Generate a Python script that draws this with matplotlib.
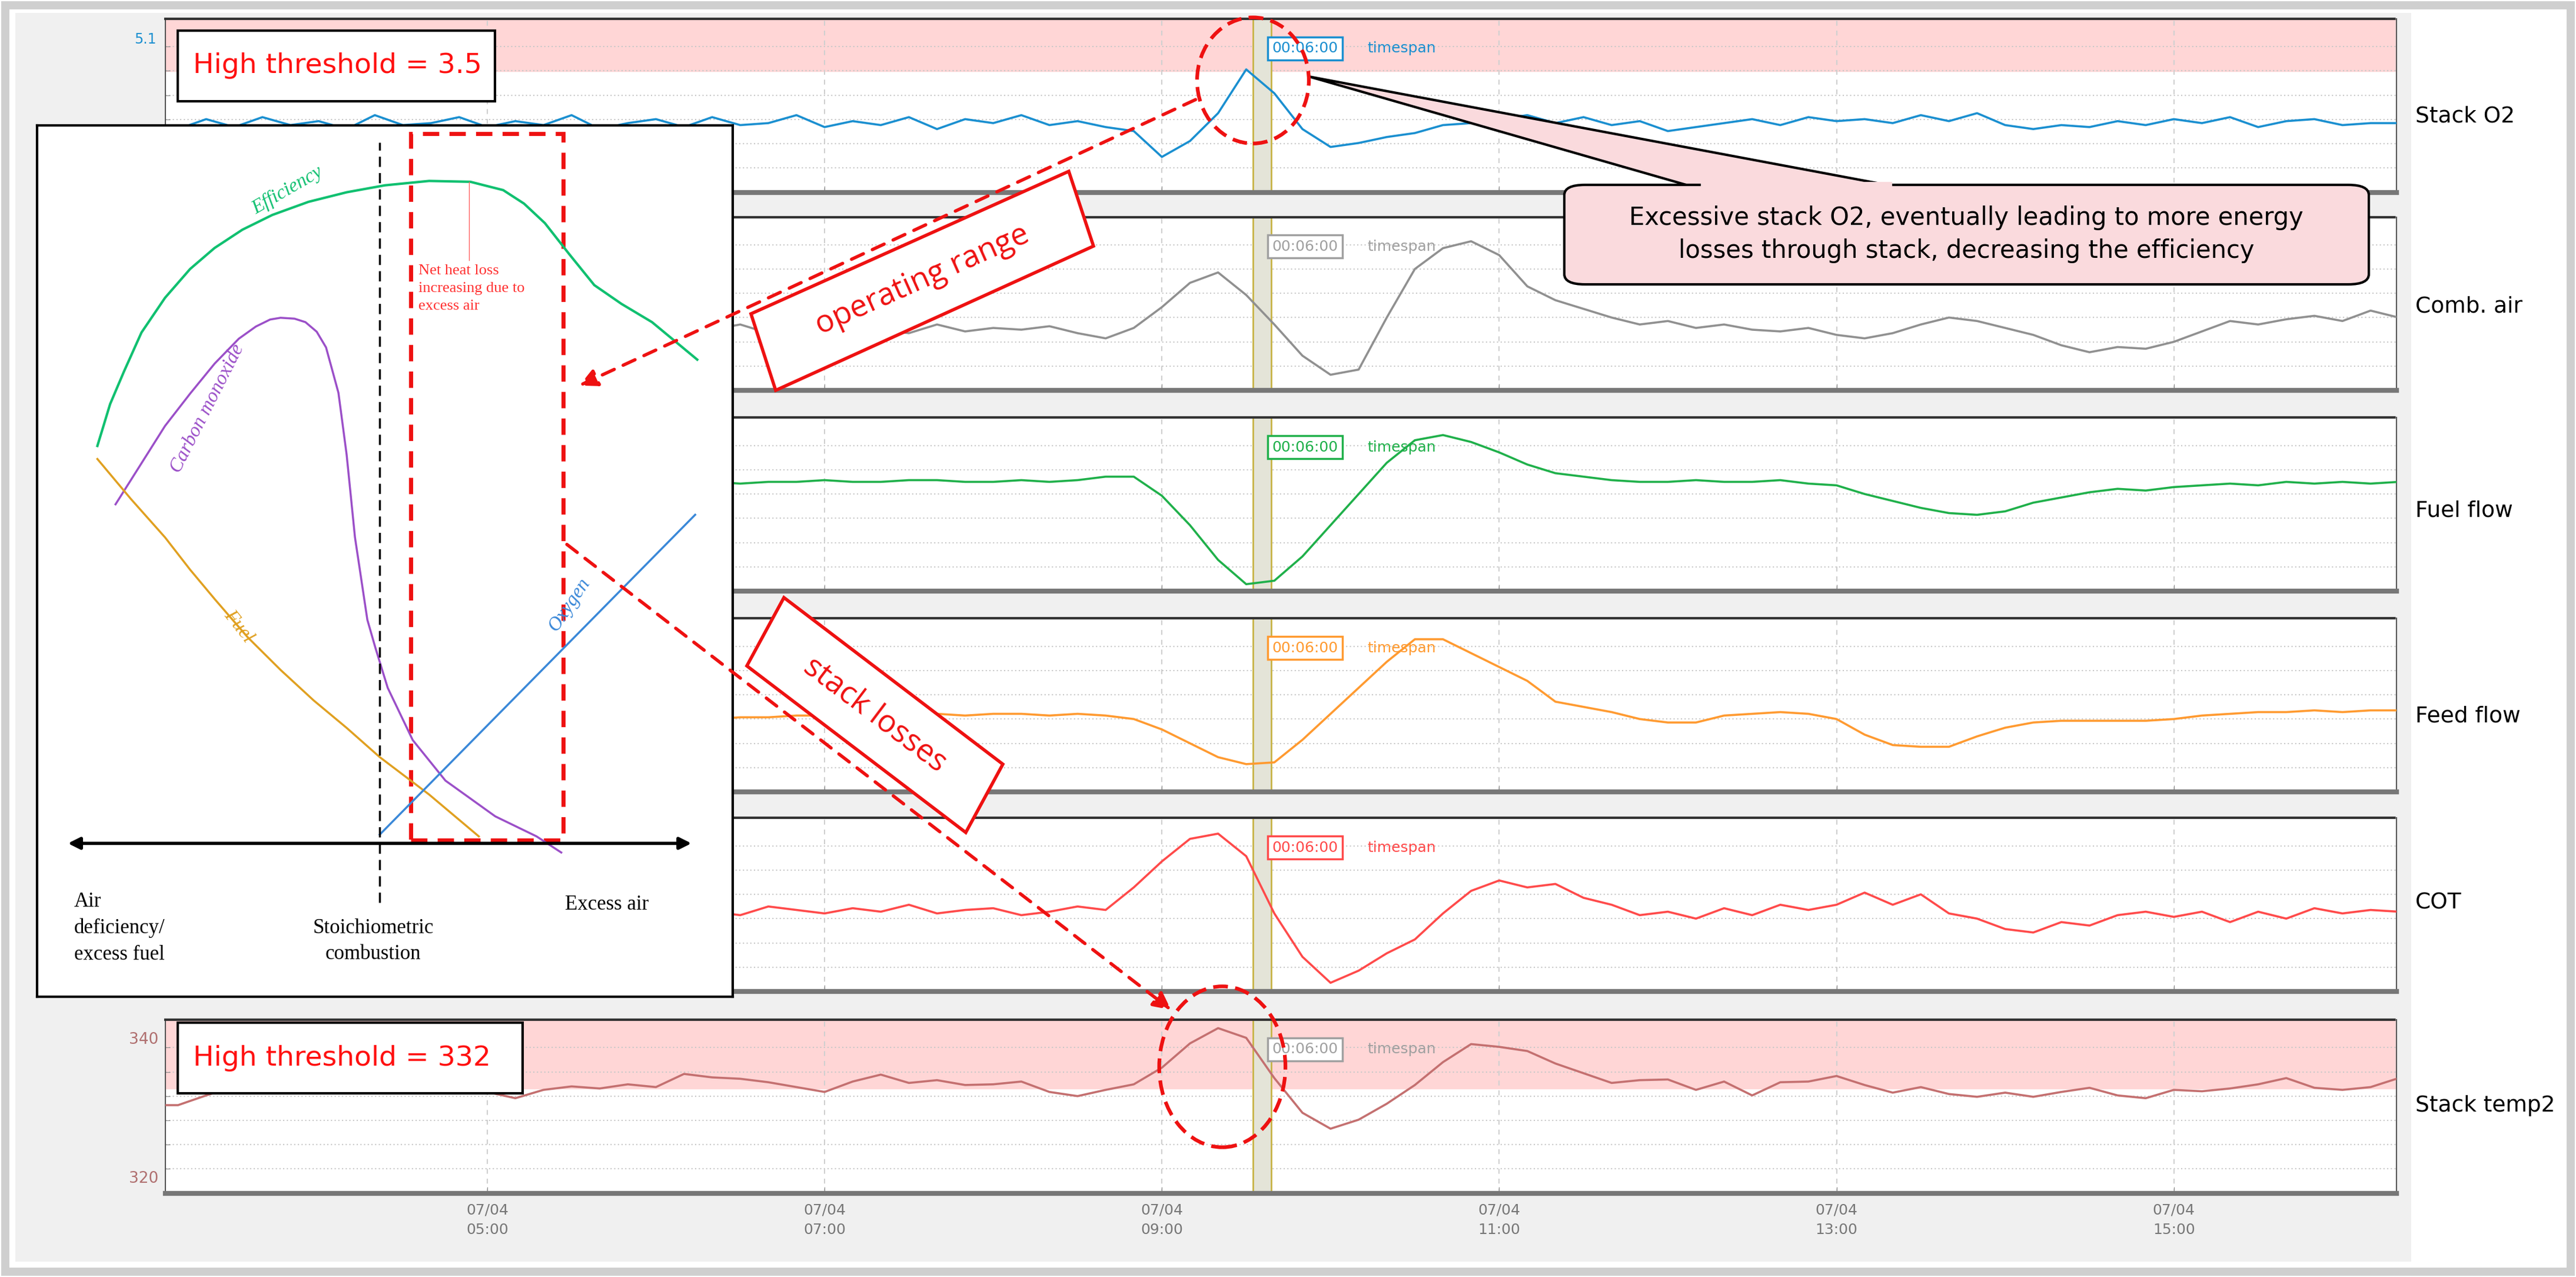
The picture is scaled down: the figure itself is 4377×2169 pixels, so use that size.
import numpy as np
import matplotlib
matplotlib.use("Agg")
import matplotlib.pyplot as plt
from matplotlib.patches import Rectangle, FancyBboxPatch, Polygon, Ellipse, FancyArrowPatch

# ---------------- data (10-minute samples starting 03:00) ----------------
o2 = [0.9,0.6,1.1,0.7,1.2,0.8,1.0,0.6,1.3,0.8,0.9,1.2,0.7,1.0,0.8,1.3,0.6,0.9,1.1,0.7,
      1.2,0.8,0.9,1.3,0.7,1.0,0.8,1.2,0.6,1.1,0.9,1.3,0.8,1.0,0.7,0.5,
      -0.8,0.0,1.4,3.6,2.4,0.6,-0.3,-0.1,0.2,0.4,0.8,0.9,1.1,1.3,0.9,1.2,0.8,1.0,0.5,0.7,
      0.9,1.1,0.8,1.2,1.0,1.1,0.9,1.3,1.0,1.4,0.8,0.6,0.8,0.7,1.0,0.8,1.1,0.9,1.2,0.7,
      1.0,1.1,0.8,0.9,0.9]
comb_air = [36,37,35,36,38,35,36,37,35,36,34,37,36,35,37,36,34,36,37,35,
            35,38,33,36,34,37,35,33,38,34,36,35,37,33,30,36,
            48,62,68,55,38,20,9,12,42,70,82,86,78,60,52,47,42,38,40,36,38,35,34,36,
            32,30,33,38,42,40,36,32,26,22,25,24,28,34,40,38,41,43,40,46,42]
fuel_flow = [63,63,64,63,63,64,63,63,63,64,63,63,64,63,63,63,64,63,62,63,63,62,63,63,64,
             63,63,64,64,63,63,64,63,64,66,
             66,55,38,18,4,6,20,38,56,74,87,90,86,80,73,68,66,64,
             63,63,64,63,63,64,62,61,56,52,48,45,44,46,51,54,57,59,58,60,61,62,61,63,62,63,62,63]
feed_flow = [42,42,42,43,42,42,43,42,42,43,42,42,43,42,43,42,42,43,42,43,42,43,43,44,44,
             43,44,44,45,44,45,45,44,45,44,
             42,36,28,20,16,17,30,45,60,75,88,88,80,72,64,52,49,46,42,40,40,44,45,46,45,
             42,33,27,26,26,32,37,40,41,41,41,41,42,44,45,46,46,47,46,47,47]
cot = [47,45,49,46,48,44,47,50,46,45,48,47,44,49,46,47,50,45,47,48,46,44,49,47,45,48,46,50,
       45,47,48,44,46,49,47,
       60,75,88,91,78,45,20,5,12,22,30,45,58,64,60,62,54,50,44,46,42,48,44,50,47,
       50,57,50,56,45,42,36,34,40,38,44,46,43,46,40,46,42,48,45,47,46]
stack_temp = [330.6,330.6,332.0,333.3,333.9,334.2,333.6,334.0,334.3,333.8,334.0,333.5,332.5,
              331.6,332.8,333.3,333.0,333.6,333.2,335.1,334.6,334.4,333.9,333.2,332.5,334.0,
              335.0,333.8,334.2,333.5,333.6,334.0,332.5,331.9,332.8,333.6,336.0,339.5,341.7,
              340.3,334.5,329.5,327.2,328.5,330.8,333.5,336.8,339.4,339.0,338.4,336.6,335.2,
              333.8,334.2,334.3,332.8,334.0,332.0,333.9,334.0,334.8,333.5,332.4,333.2,332.2,
              331.8,332.4,331.8,332.5,333.1,332.0,331.6,332.8,332.6,333.0,333.6,334.5,333.1,
              332.8,333.2,334.5]
tick_hours = [5, 7, 9, 11, 13, 15]
tick_labels = ["07/04\n05:00", "07/04\n07:00", "07/04\n09:00", "07/04\n11:00", "07/04\n13:00", "07/04\n15:00"]
panel_names = ["Stack O2", "Comb. air", "Fuel flow", "Feed flow", "COT", "Stack temp2"]
o2_threshold = 3.5
temp_threshold = 333.0
span_start, span_end = 9.54, 9.65

series = [o2, comb_air, fuel_flow, feed_flow, cot, stack_temp]
colors = ["#1a8fd0", "#909090", "#1fb04a", "#ff9a30", "#ff4a4a", "#c47070"]
ylims = [(-2.58, 6.14), (0, 100), (0, 100), (0, 100), (0, 100), (317.9, 342.9)]

W, H = 4377, 2169
fig = plt.figure(figsize=(W/100, H/100), dpi=100)
fig.patch.set_facecolor("white")
NARROW = ["Liberation Sans Narrow", "DejaVu Sans"]

def fx(X): return X / W
def fy(Y): return 1 - Y / H

fig.add_artist(Rectangle((0.002, 0.004), 0.996, 0.992, transform=fig.transFigure,
                         facecolor="white", edgecolor="#cfcfcf", lw=10, zorder=-10))
fig.add_artist(Rectangle((0.006, 0.012), 0.930, 0.978, transform=fig.transFigure,
                         facecolor="#f0f0f0", edgecolor="none", zorder=-9))

bottoms = [0.8494, 0.6943, 0.5371, 0.3799, 0.2236, 0.0656]
left, width, height = 0.0641, 0.8662, 0.1358
xlim = (3.09, 16.32)
label_y = [0.909, 0.760, 0.600, 0.439, 0.293, 0.134]

for k, (vals, c, yl, b) in enumerate(zip(series, colors, ylims, bottoms)):
    ax = fig.add_axes([left, b, width, height])
    ax.set_facecolor("white")
    t = 3 + np.arange(len(vals)) / 6.0
    ax.plot(t, vals, color=c, lw=2.6, zorder=3)
    ax.set_xlim(*xlim)
    ax.set_ylim(*yl)
    lo, hi = yl
    grid_y = [lo + f * (hi - lo) for f in (0.14, 0.28, 0.42, 0.56, 0.70, 0.84)]
    ax.set_yticks(grid_y)
    ax.set_yticklabels([])
    for gy in grid_y:
        ax.axhline(gy, color="#c8c8c8", lw=1.5, ls=(0, (1, 2)), zorder=1)
    ax.set_xticks(tick_hours)
    for th in tick_hours:
        ax.axvline(th, color="#d0d0d0", lw=1.5, ls=(0, (4, 4)), zorder=1)
    ax.tick_params(axis="y", length=6, color="#888888", direction="in")
    ax.tick_params(axis="x", length=8, color="#888888", direction="in")
    if k == 5:
        ax.set_xticklabels(tick_labels, fontsize=18, color="#777777", family=NARROW, linespacing=1.5)
        ax.tick_params(axis="x", pad=12)
    else:
        ax.set_xticklabels([])
    for s in ("left", "right"):
        ax.spines[s].set_color("#555555"); ax.spines[s].set_linewidth(1.5)
    ax.spines["top"].set_color("#333333"); ax.spines["top"].set_linewidth(3)
    ax.spines["top"].set_linestyle((0, (1, 1)))
    ax.spines["bottom"].set_color("#777777"); ax.spines["bottom"].set_linewidth(6)
    ax.axvspan(span_start, span_end, facecolor="#e4e4d8", edgecolor="#c8b448", lw=2, zorder=2)
    if k == 0:
        ax.axhspan(o2_threshold, hi, color="#ffd6d6", zorder=0.5)
        ax.text(-0.004, 0.88, "5.1", transform=ax.transAxes, ha="right", va="center",
                fontsize=17, color="#1a8fd0", family=NARROW)
    if k == 5:
        ax.axhspan(temp_threshold, hi, color="#ffd6d6", zorder=0.5)
        for v in (340, 320):
            ax.text(3.05, v, str(v), ha="right", va="center", fontsize=19,
                    color="#b07070", family=NARROW)
    boxc = "#a0a0a0" if k in (1, 5) else c
    ax.text(9.85, hi - 0.17 * (hi - lo), "00:06:00", ha="center", va="center", fontsize=18,
            color=boxc, family=NARROW, zorder=6,
            bbox=dict(boxstyle="square,pad=0.3", facecolor="white", edgecolor=boxc, lw=2.5))
    ax.text(10.22, hi - 0.17 * (hi - lo), "timespan", ha="left", va="center", fontsize=18,
            color=boxc, family=NARROW, zorder=6)
    fig.text(0.9377, label_y[k], panel_names[k], ha="left", va="center", fontsize=27,
             family=NARROW, color="black")

for (x0, y0, x1, y1, txt) in [(302, 52, 841, 172, "High threshold = 3.5"),
                              (302, 1737, 888, 1857, "High threshold = 332")]:
    fig.add_artist(Rectangle((fx(x0), fy(y1)), fx(x1) - fx(x0), fy(y0) - fy(y1),
                             transform=fig.transFigure, facecolor="white", edgecolor="black",
                             lw=3, zorder=20))
    fig.text(fx(x0) + 0.006, (fy(y0) + fy(y1)) / 2, txt, ha="left", va="center", fontsize=34,
             color="#ff1010", family=NARROW, zorder=21)

# callout
fig.add_artist(Polygon([(fx(2224), fy(130)), (fx(2879), fy(318)), (fx(3227), fy(318))],
                       closed=True, transform=fig.transFigure, facecolor="#fadadd",
                       edgecolor="black", lw=3, zorder=20))
fig.add_artist(FancyBboxPatch((fx(2658), fy(483)), fx(4025) - fx(2658), fy(314) - fy(483),
                              boxstyle="round,pad=0,rounding_size=0.008", transform=fig.transFigure,
                              facecolor="#fadadd", edgecolor="black", lw=3, zorder=21))
fig.add_artist(Rectangle((fx(2890), fy(322)), fx(3215) - fx(2890), 0.006, transform=fig.transFigure,
                         facecolor="#fadadd", edgecolor="none", zorder=22))
fig.text(fx(3341), fy(398), "Excessive stack O2, eventually leading to more energy\nlosses through stack, decreasing the efficiency",
         ha="center", va="center", fontsize=30, family=NARROW, linespacing=1.45, zorder=23)

fig.add_artist(Ellipse((0.4864, 0.937), 0.0434, 0.0987, transform=fig.transFigure, fill=False,
                       edgecolor="#ee1111", lw=4.5, ls=(0, (4, 2)), zorder=25))
fig.add_artist(Ellipse((0.4745, 0.1646), 0.049, 0.126, transform=fig.transFigure, fill=False,
                       edgecolor="#ee1111", lw=4.5, ls=(0, (4, 2)), zorder=25))

def rbox(corners, text, rot):
    pts = [(fx(X), fy(Y)) for X, Y in corners]
    fig.add_artist(Polygon(pts, closed=True, transform=fig.transFigure, facecolor="white",
                           edgecolor="#ee1111", lw=4, zorder=26))
    cx = np.mean([p[0] for p in pts]); cy = np.mean([p[1] for p in pts])
    fig.text(cx, cy, text, ha="center", va="center", rotation=rot, rotation_mode="anchor",
             fontsize=38, color="#ee1111", family=["Open Sans", "DejaVu Sans"], zorder=27)

rbox([(1276, 533), (1816, 291), (1858, 418), (1318, 663)], "operating range", 24)
rbox([(1332, 1015), (1704, 1298), (1641, 1414), (1269, 1131)], "stack losses", -37)

for (a, b) in [((2034, 168), (982, 656)), ((961, 923), (1992, 1717))]:
    fig.add_artist(FancyArrowPatch((fx(a[0]), fy(a[1])), (fx(b[0]), fy(b[1])),
                                   transform=fig.transFigure, arrowstyle="-|>", mutation_scale=45,
                                   color="#ee1111", lw=4, ls=(0, (4, 3)), zorder=24))

# ---------------- inset ----------------
ins = fig.add_axes([fx(63), fy(1693), fx(1245) - fx(63), fy(212.6) - fy(1693)])
ins.set_xlim(0, 1); ins.set_ylim(0, 1)
ins.set_xticks([]); ins.set_yticks([])
ins.set_zorder(18)
ins.set_facecolor("white")
for s in ins.spines.values():
    s.set_linewidth(3); s.set_color("black")

eff_u = [0.0867,0.105,0.1247,0.15,0.184,0.22,0.255,0.295,0.3382,0.39,0.445,0.50,0.5635,0.623,0.670,0.700,0.730,0.765,0.801,0.84,0.884,0.949]
eff_v = [0.632,0.68,0.717,0.762,0.802,0.835,0.859,0.880,0.897,0.912,0.923,0.931,0.936,0.935,0.9255,0.910,0.8876,0.852,0.8165,0.795,0.774,0.731]
co_u = [0.1128,0.15,0.184,0.22,0.2552,0.29,0.3146,0.335,0.350,0.370,0.3858,0.402,0.4154,0.4332,0.445,0.457,0.4748,0.4865,0.504,0.540,0.587,0.6586,0.718,0.7535]
co_v = [0.565,0.612,0.655,0.692,0.7264,0.755,0.769,0.777,0.779,0.778,0.774,0.763,0.745,0.693,0.622,0.527,0.4324,0.400,0.3545,0.2945,0.248,0.207,0.184,0.1655]
fuel_u = [0.0867,0.135,0.184,0.22,0.2556,0.3027,0.35,0.3976,0.445,0.4925,0.5636,0.635]
fuel_v = [0.617,0.571,0.527,0.49,0.456,0.4125,0.375,0.340,0.3085,0.275,0.232,0.184]
oxy_u = [0.4925, 0.946]
oxy_v = [0.186, 0.553]

ins.plot(eff_u, eff_v, color="#10c070", lw=3)
ins.plot(co_u, co_v, color="#9b4fc8", lw=2.5)
ins.plot(fuel_u, fuel_v, color="#e0a020", lw=2.5)
ins.plot(oxy_u, oxy_v, color="#3a88d8", lw=2.5)
ins.annotate("", xy=(0.943, 0.176), xytext=(0.042, 0.176),
             arrowprops=dict(arrowstyle="<|-|>", color="black", lw=4, mutation_scale=30))
ins.plot([0.492, 0.492], [0.108, 0.98], color="black", lw=2.5, ls=(0, (5, 3)))
ins.add_patch(Rectangle((0.537, 0.18), 0.219, 0.81, fill=False, edgecolor="#ee1111",
                        lw=5, ls=(0, (4, 2.5))))
ins.plot([0.621, 0.621], [0.845, 0.935], color="#ff6060", lw=1)
SERIF = ["Liberation Serif", "DejaVu Serif"]
ins.text(0.548, 0.84, "Net heat loss\nincreasing due to\nexcess air", ha="left", va="top",
         fontsize=19, color="#ff3030", family=SERIF, linespacing=1.45)
ins.text(0.36, 0.925, "Efficiency", rotation=30, ha="center", va="center", fontsize=24,
         color="#10c070", family=SERIF, style="italic")
ins.text(0.245, 0.675, "Carbon monoxide", rotation=63, ha="center", va="center", fontsize=24,
         color="#9b4fc8", family=SERIF, style="italic")
ins.text(0.29, 0.425, "Fuel", rotation=-52, ha="center", va="center", fontsize=24,
         color="#e0a020", family=SERIF, style="italic")
ins.text(0.765, 0.45, "Oxygen", rotation=56, ha="center", va="center", fontsize=24,
         color="#3a88d8", family=SERIF, style="italic")
ins.text(0.053, 0.12, "Air\ndeficiency/\nexcess fuel", ha="left", va="top", fontsize=25,
         family=SERIF, linespacing=1.45)
ins.text(0.483, 0.09, "Stoichiometric\ncombustion", ha="center", va="top", fontsize=25,
         family=SERIF, linespacing=1.45)
ins.text(0.819, 0.106, "Excess air", ha="center", va="center", fontsize=25, family=SERIF)

fig.savefig("out.png", dpi=100, facecolor=fig.get_facecolor())
